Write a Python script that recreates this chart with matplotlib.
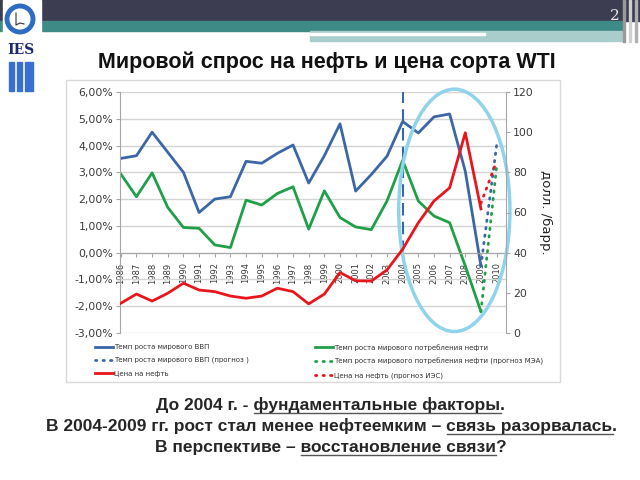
import matplotlib.pyplot as plt
from matplotlib.patches import Rectangle, Ellipse, Circle

# данные с графика
years = list(range(1986, 2010))
gdp = [3.52, 3.62, 4.5, 3.75, 3.0, 1.5, 2.0, 2.09, 3.41, 3.34, 3.71, 4.02,
       2.6, 3.62, 4.81, 2.3, 2.92, 3.6, 4.9, 4.47, 5.07, 5.18, 3.04, -0.5]
oil = [2.94, 2.09, 2.98, 1.69, 0.94, 0.91, 0.29, 0.19, 1.96, 1.78, 2.21, 2.46,
       0.88, 2.31, 1.31, 0.96, 0.86, 1.93, 3.45, 1.93, 1.37, 1.12, -0.5, -2.2]
price = [14.8, 19.4, 15.9, 19.8, 24.8, 21.4, 20.6, 18.4, 17.3, 18.4, 22.3, 20.6,
         14.5, 19.4, 30.1, 26.0, 25.9, 31.4, 41.7, 54.9, 65.7, 72.3, 99.7, 61.8]
fc_years = [2009, 2010]
gdp_fc = [-0.5, 4.0]
oil_fc = [-2.2, 3.2]
price_fc = [64.6, 85.5]
tick_years = list(range(1986, 2011))
left_ticks = [-3, -2, -1, 0, 1, 2, 3, 4, 5, 6]
right_ticks = [0, 20, 40, 60, 80, 100, 120]

BLUE = '#3b67a6'
GREEN = '#1fa048'
RED = '#e8161c'
GRAY = '#3a3a3a'

fig = plt.figure(figsize=(6.4, 4.8), dpi=100)

# фон слайда в пикселях
bg = fig.add_axes([0, 0, 1, 1], zorder=0)
bg.set_xlim(0, 640)
bg.set_ylim(480, 0)
bg.axis('off')
bg.add_patch(Rectangle((0, 0), 640, 21, color='#3c3d51'))
bg.add_patch(Rectangle((0, 21), 622, 10, color='#3e8a86'))
bg.add_patch(Rectangle((310, 31), 312, 10, color='#a9cdca'))
bg.add_patch(Rectangle((310, 33), 175, 2, color='white'))
for xv, c in [(623, '#9a9a9a'), (629, '#d0d0d0'), (635, '#b0b0b0')]:
    bg.add_patch(Rectangle((xv, 0), 2, 42, color=c))
bg.text(615, 20, '2', color='#e6e6e6', fontsize=11, family='DejaVu Serif', ha='center', va='baseline')
# логотип
bg.add_patch(Rectangle((3, 0), 38, 38, color='white'))
bg.add_patch(Circle((20, 19), 13, fill=False, lw=3.5, ec='#2e6cc4'))
bg.plot([16, 16, 20, 24], [13, 25, 23, 24], color='#333333', lw=0.8)
bg.text(21, 50, 'IES', color='#1e2a6e', fontsize=10, fontweight='bold', family='DejaVu Serif',
        ha='center', va='center')
for x0, w in [(9, 5), (17, 5), (25, 8)]:
    bg.add_patch(Rectangle((x0, 62), w, 29, color='#3a6fd2'))

# заголовок
bg.text(327, 62, 'Мировой спрос на нефть и цена сорта WTI', fontsize=15.5, fontweight='bold',
        family='Liberation Sans', color='#111111', ha='center', va='center')
# рамка диаграммы
bg.add_patch(Rectangle((66, 80), 494, 302, fill=False, ec='#d9d9d9', lw=1))

# основная диаграмма
ax = fig.add_axes([120 / 640, 1 - 333 / 480, 386 / 640, 241 / 480], zorder=2)
ax.patch.set_alpha(0)
ax.spines['bottom'].set_position(('data', 0))
ax.set_xlim(1985.95, 2010.6)
ax.set_ylim(-3, 6)
ax.set_yticks(left_ticks)
ax.yaxis.set_major_formatter(plt.FuncFormatter(lambda v, p: ('%.2f%%' % v).replace('.', ',')))
ax.grid(axis='y', color='#d4d4d4', lw=1)
ax.set_axisbelow(True)
ax.set_xticks(tick_years)
ax.set_xticklabels([str(y) for y in tick_years], rotation=90, fontsize=6, color=GRAY)
ax.spines['bottom'].set_color('#a6a6a6')
ax.spines['left'].set_color('#a6a6a6')
ax.spines['top'].set_visible(False)
ax.spines['right'].set_visible(False)
ax.tick_params(axis='x', length=3, pad=4, color='#a6a6a6')
ax.tick_params(axis='y', labelsize=7.8, labelcolor=GRAY, length=3, color='#a6a6a6', pad=2)

l_gdp, = ax.plot(years, gdp, color=BLUE, lw=2, label='Темп роста мирового ВВП')
l_oil, = ax.plot(years, oil, color=GREEN, lw=2, label='Темп роста мирового потребления нефти')
l_gdpf, = ax.plot(fc_years, gdp_fc, color=BLUE, lw=2, ls=(0, (0.5, 2.2)), dash_capstyle='round',
                  label='Темп роста мирового ВВП (прогноз )')
l_oilf, = ax.plot(fc_years, oil_fc, color=GREEN, lw=2, ls=(0, (0.5, 2.2)), dash_capstyle='round',
                  label='Темп роста мирового потребления нефти (прогноз МЭА)')
ax.vlines(2004, 0, 6, color=BLUE, lw=1.5, ls=(0, (6, 3)))

ax2 = ax.twinx()
ax2.set_ylim(0, 120)
ax2.set_yticks(right_ticks)
for s in ['top', 'left', 'bottom']:
    ax2.spines[s].set_visible(False)
ax2.spines['right'].set_color('#a6a6a6')
ax2.tick_params(axis='y', labelsize=7.8, labelcolor=GRAY, length=3, color='#a6a6a6', pad=2)
ax2.set_ylabel('долл. /барр.', rotation=270, fontsize=9.5, color='#222222', labelpad=13)
l_pr, = ax2.plot(years, price, color=RED, lw=2, label='Цена на нефть')
l_prf, = ax2.plot(fc_years, price_fc, color=RED, lw=2, ls=(0, (0.5, 2.2)), dash_capstyle='round',
                  label='Цена на нефть (прогноз ИЭС)')

ax.add_patch(Ellipse((2007.3, 1.58), 7.1, 9.05, fill=False, ec='#90d3ec', lw=2.5, clip_on=False,
                     zorder=5))

leg_kw = dict(frameon=False, fontsize=5, handlelength=2.6, handletextpad=0.2, labelspacing=1.0,
              borderpad=0, borderaxespad=0)
leg1 = fig.legend(handles=[l_gdp, l_gdpf, l_pr], loc='upper left',
                  bbox_to_anchor=(95 / 640, 1 - 344 / 480), **leg_kw)
leg2 = fig.legend(handles=[l_oil, l_oilf, l_prf], loc='upper left',
                  bbox_to_anchor=(315 / 640, 1 - 344 / 480), **leg_kw)
for lg in (leg1, leg2):
    for t in lg.get_texts():
        t.set_color('#333333')

# нижний текст с подчёркиваниями
renderer = fig.canvas.get_renderer()
TXT = dict(fontsize=12.5, fontweight='bold', family='Liberation Sans', color='#262626')


def width_of(s):
    t = bg.text(0, 0, s + '.', **TXT)
    w1 = t.get_window_extent(renderer).width
    t.remove()
    t = bg.text(0, 0, '.', **TXT)
    w2 = t.get_window_extent(renderer).width
    t.remove()
    return w1 - w2


def text_line(cx, y, pre, under, post):
    t = bg.text(cx, y, pre + under + post, ha='center', va='baseline', **TXT)
    bb = t.get_window_extent(renderer)
    x0 = bb.x0 + width_of(pre)
    x1 = x0 + width_of(under)
    bg.plot([x0, x1], [y + 3, y + 3], color='#555555', lw=1)


text_line(331, 410, 'До 2004 г. - ', 'фундаментальные факторы', '.')
text_line(332, 431, 'В 2004-2009 гг. рост стал менее нефтеемким – ', 'связь разорвалась', '.')
text_line(331, 452, 'В перспективе – ', 'восстановление связи', '?')

fig.savefig('out.png', dpi=100)
